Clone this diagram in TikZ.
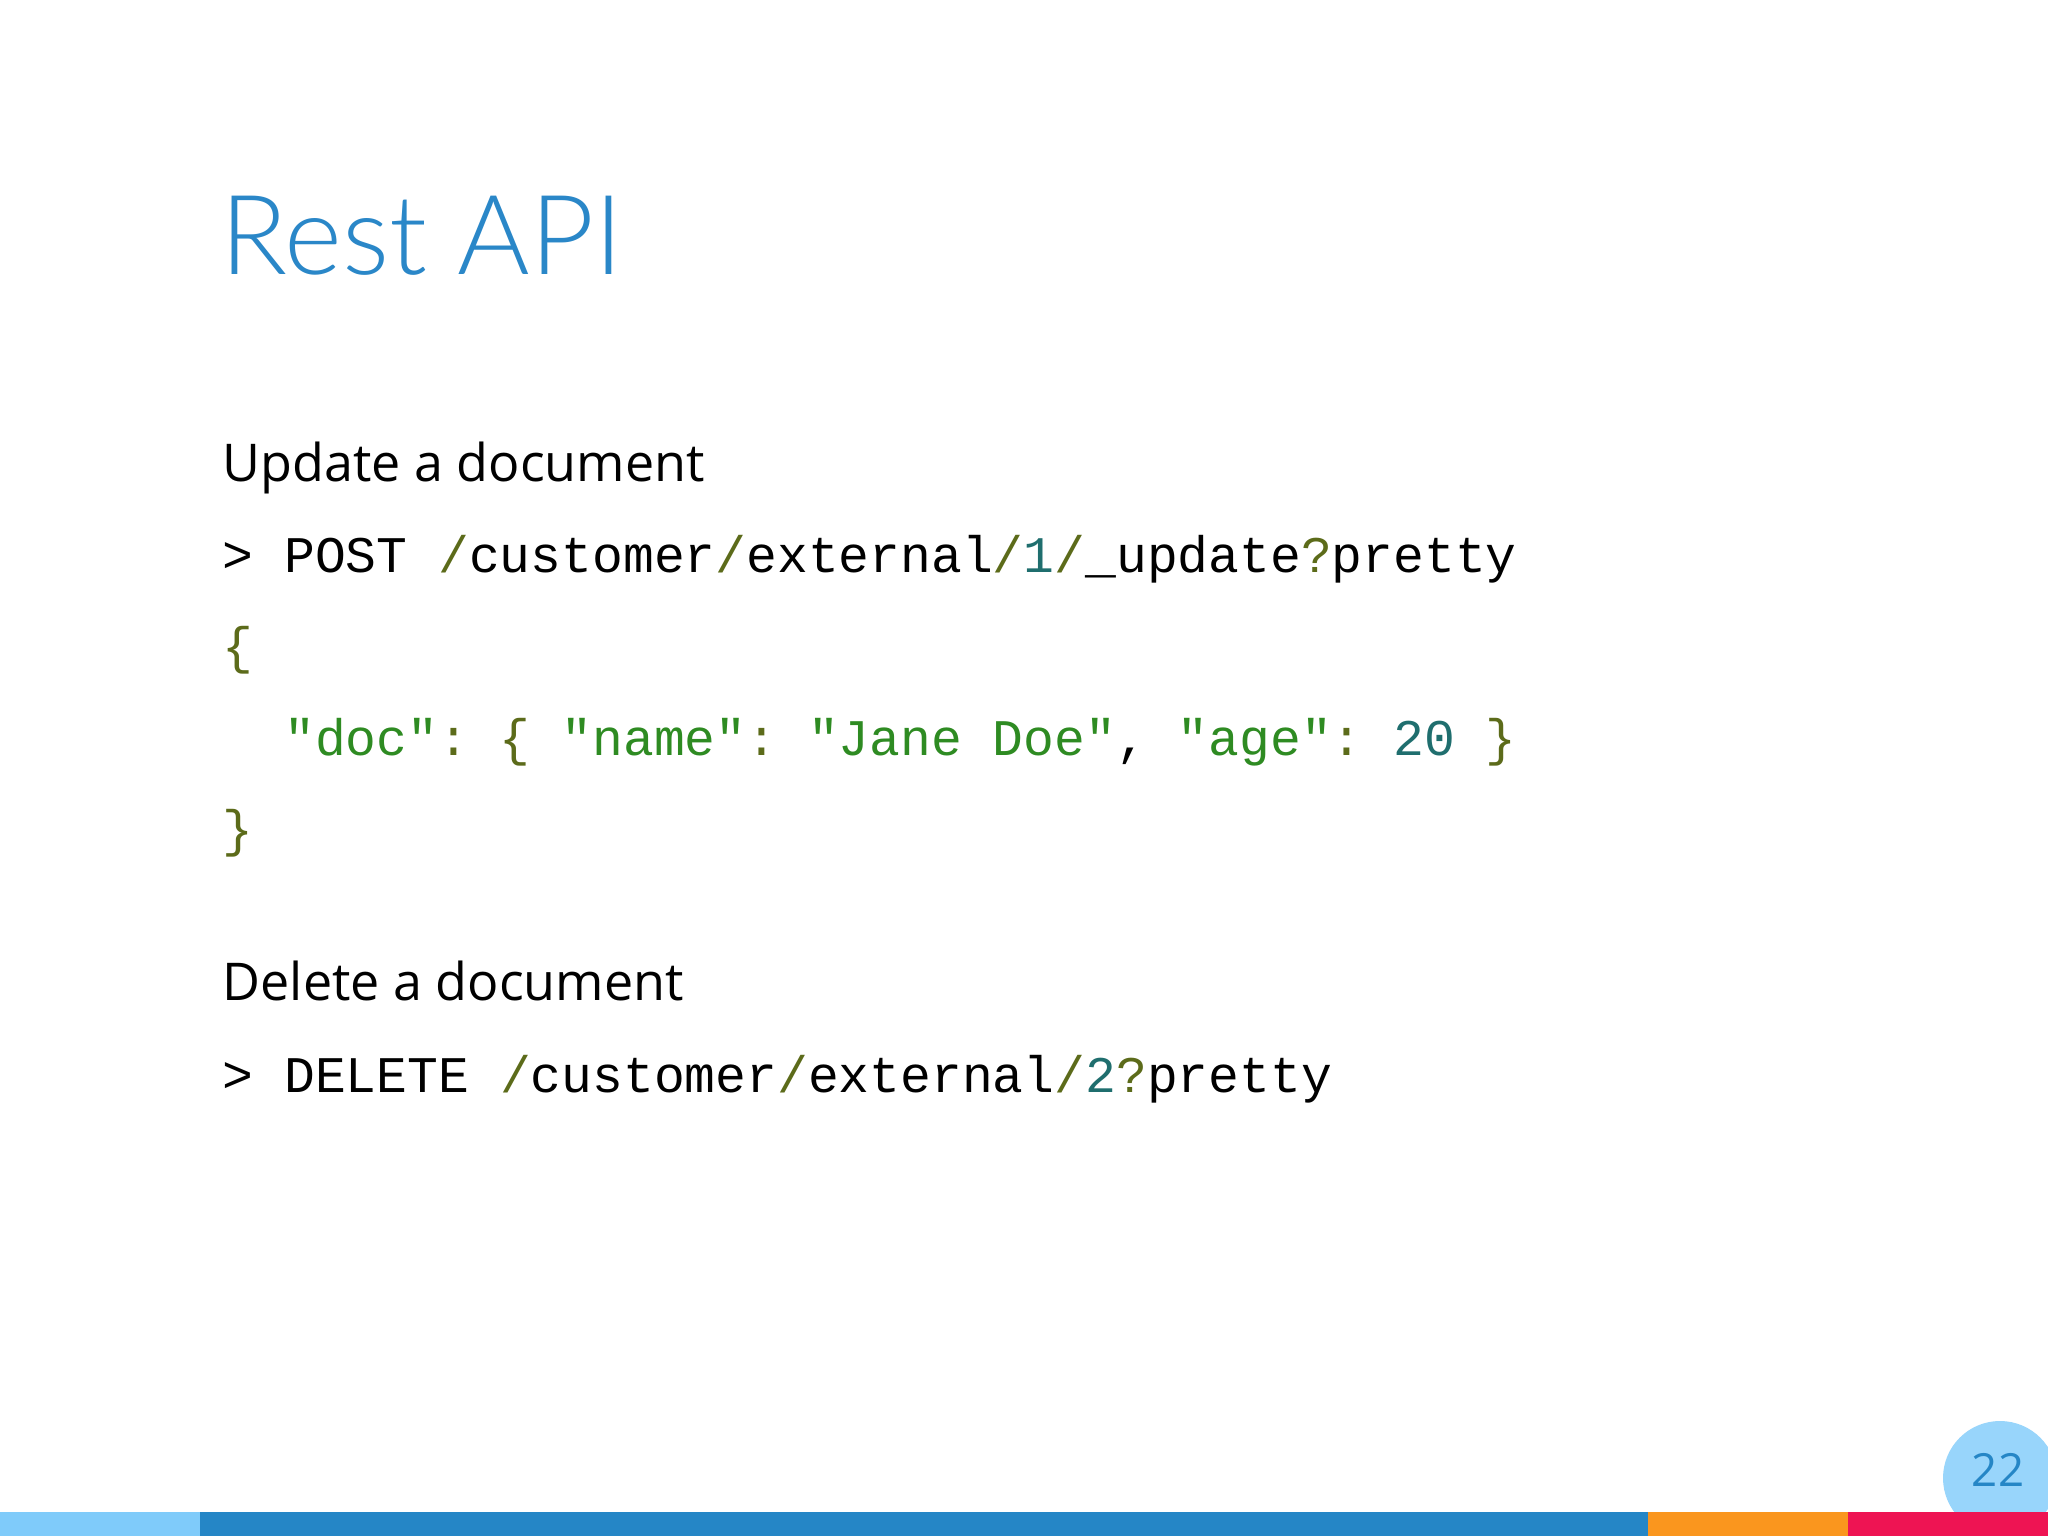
\documentclass[tikz,border=0pt]{standalone}
\usepackage{fontspec}
\setmainfont{Open Sans}
\newfontfamily\titlefont{Lato Light}
\setmonofont{Liberation Mono}
\definecolor{titleblue}{HTML}{2A87C8}
\definecolor{punct}{HTML}{5C6B1A}
\definecolor{numc}{HTML}{1F6E6E}
\definecolor{strc}{HTML}{2E8B22}
\definecolor{barlight}{HTML}{7FCBFA}
\definecolor{barblue}{HTML}{2586C6}
\definecolor{barorange}{HTML}{FA961E}
\definecolor{barred}{HTML}{EE1453}
\newcommand{\cpu}[1]{\textcolor{punct}{#1}}
\newcommand{\cnum}[1]{\textcolor{numc}{#1}}
\newcommand{\cstr}[1]{\textcolor{strc}{#1}}
\begin{document}
\begin{tikzpicture}[x=0.01cm,y=-0.01cm,
  heading/.style={anchor=base west,inner sep=0pt,font=\fontsize{14.8}{18}\selectfont},
  code/.style={anchor=base west,inner sep=0pt,font=\ttfamily\fontsize{14.6}{17}\selectfont}]
\useasboundingbox (0,0) rectangle (2048,1536);
\fill[white] (0,0) rectangle (2048,1536);
\node[anchor=base west,inner sep=0pt,text=titleblue,font=\titlefont\fontsize{31.5}{38}\selectfont] (title) at (220,274) {Rest API};
\node[heading] (upd) at (222,481) {Update a document};
\node[code] (l1) at (222,572) {> POST \cpu{/}customer\cpu{/}external\cpu{/}\cnum{1}\cpu{/}\_update\cpu{?}pretty};
\node[code] (l2) at (222,663) {\cpu{\{}};
\node[code] (l3) at (222,755) {\phantom{xx}\cstr{"doc"}\cpu{: \{} \cstr{"name"}\cpu{:} \cstr{"Jane Doe"}, \cstr{"age"}\cpu{:} \cnum{20} \cpu{\}}};
\node[code] (l4) at (222,846) {\cpu{\}}};
\node[heading] (del) at (222,1000) {Delete a document};
\node[code] (l5) at (222,1092) {> DELETE \cpu{/}customer\cpu{/}external\cpu{/}\cnum{2}\cpu{?}pretty};
% footer
\fill[barlight!80] (2000,1478) circle (57);
\node[text=barblue,font=\fontsize{13}{16}\selectfont] (page) at (1998,1470) {22};
\fill[barlight] (0,1512) rectangle (200,1536);
\fill[barblue] (200,1512) rectangle (1648,1536);
\fill[barorange] (1648,1512) rectangle (1848,1536);
\fill[barred] (1848,1512) rectangle (2048,1536);
\end{tikzpicture}
\end{document}
